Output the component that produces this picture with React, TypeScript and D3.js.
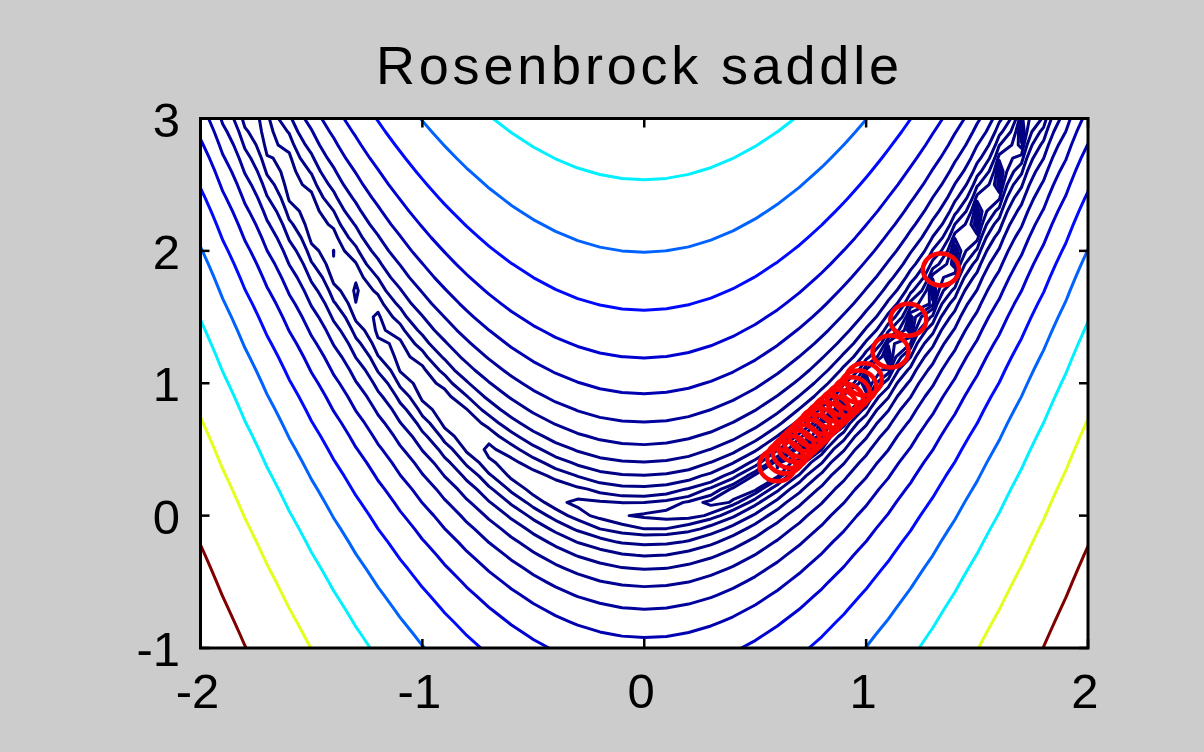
import React from "react";
import * as d3 from "d3";

const W = 1204;
const H = 752;
const titleText = "Rosenbrock saddle";
const xDomain = [-2, 2];
const yDomain = [-1, 3];
const xTicks = [-2, -1, 0, 1, 2];
const yTicks = [-1, 0, 1, 2, 3];
const xTickLabels = ["-2", "-1", "0", "1", "2"];
const yTickLabels = ["-1", "0", "1", "2", "3"];

// contour levels (roughly geometric)
const contourLevels = [
  0.028, 0.048, 0.082, 0.14, 0.235, 0.4, 0.68, 1.15, 2.0, 3.4, 6.0, 10.3,
  17.5, 30, 51, 86, 143, 242, 397, 645, 1070, 1790,
];

// red circle iterates
const iterX = [
  1.337, 1.19, 1.11, 0.99, 0.965, 0.935, 0.905, 0.875, 0.845, 0.815, 0.785,
  0.76, 0.735, 0.71, 0.685, 0.66, 0.635, 0.6,
];
const iterY = [
  1.86, 1.48, 1.24, 1.03, 0.975, 0.925, 0.875, 0.83, 0.785, 0.735, 0.69,
  0.645, 0.605, 0.565, 0.525, 0.48, 0.44, 0.38,
];

// sampling grid (slightly larger than the axes; clipped)
const gridStep = 0.1;
const gridX0 = -2.1;
const gridY0 = -1.1;
const gridNx = 43;
const gridNy = 43;

const rosenbrock = (x: number, y: number) =>
  100 * (y - x * x) * (y - x * x) + (1 - x) * (1 - x);

const clamp = (v: number) => Math.max(0, Math.min(1, v));
function jet(t: number) {
  const r = clamp(1.5 - Math.abs(4 * t - 3));
  const g = clamp(1.5 - Math.abs(4 * t - 2));
  const b = clamp(1.5 - Math.abs(4 * t - 1));
  return d3.rgb(r * 255, g * 255, b * 255).formatHex();
}

const plot = { left: 200.5, right: 1088, top: 118.5, bottom: 648 };

export default function App() {
  const xScale = d3.scaleLinear().domain(xDomain).range([plot.left, plot.right]);
  const yScale = d3.scaleLinear().domain(yDomain).range([plot.bottom, plot.top]);

  const values: number[] = new Array(gridNx * gridNy);
  for (let j = 0; j < gridNy; j++) {
    for (let i = 0; i < gridNx; i++) {
      values[j * gridNx + i] = rosenbrock(gridX0 + i * gridStep, gridY0 + j * gridStep);
    }
  }
  const contours = d3.contours().size([gridNx, gridNy]).thresholds(contourLevels)(values);
  const proj = d3.geoTransform({
    point(this: any, cx: number, cy: number) {
      const x = gridX0 + (cx - 0.5) * gridStep;
      const y = gridY0 + (cy - 0.5) * gridStep;
      this.stream.point(xScale(x), yScale(y));
    },
  });
  const pathGen = d3.geoPath(proj);
  const maxLevel = d3.max(contourLevels) as number;

  const tickLen = 9;
  const font = "'Liberation Sans', Arial, sans-serif";

  return (
    <svg
      width={W}
      height={H}
      style={{ position: "absolute", left: 0, top: 0, display: "block" }}
    >
      <rect x={0} y={0} width={W} height={H} fill="#cccccc" />
      <defs>
        <clipPath id="plotclip">
          <rect x={plot.left} y={plot.top} width={plot.right - plot.left} height={plot.bottom - plot.top} />
        </clipPath>
      </defs>
      <rect x={plot.left} y={plot.top} width={plot.right - plot.left} height={plot.bottom - plot.top} fill="#ffffff" />
      <g clipPath="url(#plotclip)">
        {contours.map((c, k) => (
          <path
            key={k}
            d={pathGen(c as any) || ""}
            fill="none"
            stroke={jet(c.value / maxLevel)}
            strokeWidth={3}
            strokeLinejoin="round"
          />
        ))}
        {iterX.map((x, k) => (
          <ellipse
            key={k}
            cx={xScale(x)}
            cy={yScale(iterY[k])}
            rx={18}
            ry={16}
            fill="none"
            stroke="#ff0000"
            strokeWidth={4.5}
          />
        ))}
      </g>
      {xTicks.map((t, k) => (
        <g key={"xt" + k}>
          <line x1={xScale(t)} x2={xScale(t)} y1={plot.bottom} y2={plot.bottom - tickLen} stroke="#000" strokeWidth={2.5} />
          <line x1={xScale(t)} x2={xScale(t)} y1={plot.top} y2={plot.top + tickLen} stroke="#000" strokeWidth={2.5} />
          <text x={xScale(t) - 3} y={708} textAnchor="middle" fontFamily={font} fontSize={49} fill="#000">
            {xTickLabels[k]}
          </text>
        </g>
      ))}
      {yTicks.map((t, k) => (
        <g key={"yt" + k}>
          <line x1={plot.left} x2={plot.left + tickLen} y1={yScale(t)} y2={yScale(t)} stroke="#000" strokeWidth={2.5} />
          <line x1={plot.right} x2={plot.right - tickLen} y1={yScale(t)} y2={yScale(t)} stroke="#000" strokeWidth={2.5} />
          <text x={180} y={yScale(t) + 18} textAnchor="end" fontFamily={font} fontSize={49} fill="#000">
            {yTickLabels[k]}
          </text>
        </g>
      ))}
      <rect
        x={plot.left}
        y={plot.top}
        width={plot.right - plot.left}
        height={plot.bottom - plot.top}
        fill="none"
        stroke="#000"
        strokeWidth={3}
      />
      <text
        x={637.5}
        y={84}
        textAnchor="middle"
        fontFamily={font}
        fontSize={54}
        textLength={523}
        lengthAdjust="spacing"
        fill="#000"
      >
        {titleText}
      </text>
    </svg>
  );
}
